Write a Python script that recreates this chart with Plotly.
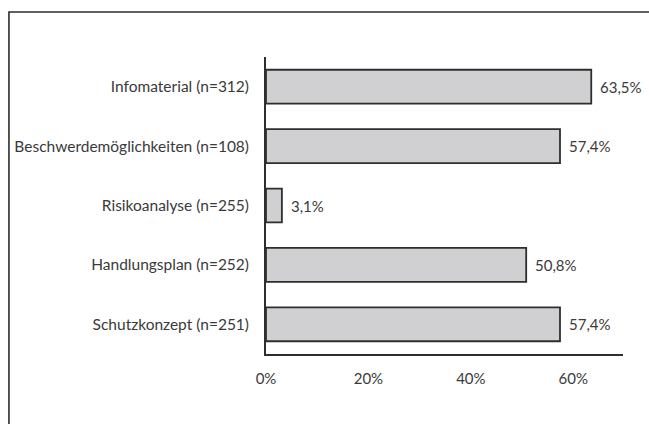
import plotly.graph_objects as go

categories = ["Infomaterial (n=312)", "Beschwerdemöglichkeiten (n=108)", "Risikoanalyse (n=255)",
              "Handlungsplan (n=252)", "Schutzkonzept (n=251)"]
values = [63.5, 57.4, 3.1, 50.8, 57.4]
value_labels = ["63,5%", "57,4%", "3,1%", "50,8%", "57,4%"]
tick_vals = [0, 20, 40, 60]
tick_text = ["0%", "20%", "40%", "60%"]

FONT = "Lato"
TXT = "#3a3a3a"

fig = go.Figure(go.Bar(
    y=categories, x=values, orientation="h",
    marker=dict(color="#d0d0d2", line=dict(color="#2e2e2e", width=1.8)),
    width=0.57,
))

for c, v, t in zip(categories, values, value_labels):
    fig.add_annotation(x=v, y=c, text=t, showarrow=False, xanchor="left", xshift=7,
                       font=dict(family=FONT, size=15, color=TXT))

fig.update_layout(
    width=649, height=424,
    margin=dict(l=266, r=26, t=57, b=70),
    paper_bgcolor="white", plot_bgcolor="white",
    showlegend=False,
    font=dict(family=FONT, size=15, color=TXT),
    xaxis=dict(range=[0, 69.7], tickvals=tick_vals, ticktext=tick_text, showgrid=False,
               zeroline=False, showline=True, linecolor="#2e2e2e", linewidth=1.8,
               ticks="outside", ticklen=10, tickcolor="rgba(0,0,0,0)", fixedrange=True,
               tickfont=dict(size=15)),
    yaxis=dict(categoryorder="array", categoryarray=categories[::-1], showgrid=False,
               zeroline=False, showline=True, linecolor="#2e2e2e", linewidth=1.8,
               ticks="outside", ticklen=12, tickcolor="rgba(0,0,0,0)", fixedrange=True,
               tickfont=dict(size=15.5)),
)

# outer frame (top and left edges visible)
fig.add_shape(type="path", xref="paper", yref="paper",
              path="M -0.72,-0.5 L -0.72,1.1515 L 1.2,1.1515",
              line=dict(color="#2e2e2e", width=1.6))

fig.write_html("out.html")
